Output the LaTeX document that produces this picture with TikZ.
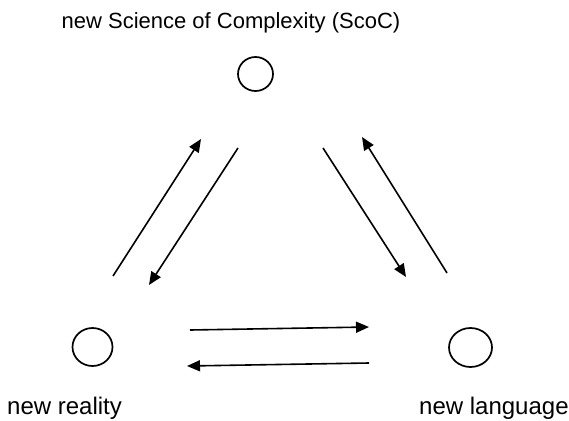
\documentclass[tikz,border=0pt]{standalone}
\usepackage{fontspec}
\setmainfont{Liberation Sans}
\usetikzlibrary{arrows.meta,shapes.geometric}
\tikzset{
  ring/.style={draw, ellipse, line width=1.7pt, inner sep=0pt},
  link/.style={line width=1.6pt, -{Triangle[length=13pt,width=11pt]}},
  lbl/.style={inner sep=0pt, font=\fontsize{24}{28}\selectfont}
}
\begin{document}
\begin{tikzpicture}[x=1pt, y=-1pt]
  \useasboundingbox (0,0) rectangle (569,420);
  % the three places
  \node[ring, minimum width=35pt, minimum height=34pt] (scoc) at (255.5,74) {};
  \node[ring, minimum width=40pt, minimum height=38pt] (real) at (92.5,347) {};
  \node[ring, minimum width=43pt, minimum height=39pt] (lang) at (470.5,347.5) {};
  \node[lbl, anchor=base, font=\fontsize{22}{26}\selectfont] (tscoc) at (231,29) {new Science of Complexity (ScoC)};
  \node[lbl, anchor=base west] (treal) at (7,414) {new reality};
  \node[lbl, anchor=base west] (tlang) at (419,414) {new language};
  % arrow ends
  \coordinate (a1) at (113,276);  \coordinate (a2) at (201,139);
  \coordinate (b1) at (238,148);  \coordinate (b2) at (149,285);
  \coordinate (c1) at (323,148);  \coordinate (c2) at (406,277);
  \coordinate (d1) at (447,273);  \coordinate (d2) at (362,137);
  \coordinate (e1) at (190,330);  \coordinate (e2) at (369,327);
  \coordinate (f1) at (369,363);  \coordinate (f2) at (187,366);
  \draw[link] (a1) -- (a2);
  \draw[link] (b1) -- (b2);
  \draw[link] (c1) -- (c2);
  \draw[link] (d1) -- (d2);
  \draw[link] (e1) -- (e2);
  \draw[link] (f1) -- (f2);
\end{tikzpicture}
\end{document}
